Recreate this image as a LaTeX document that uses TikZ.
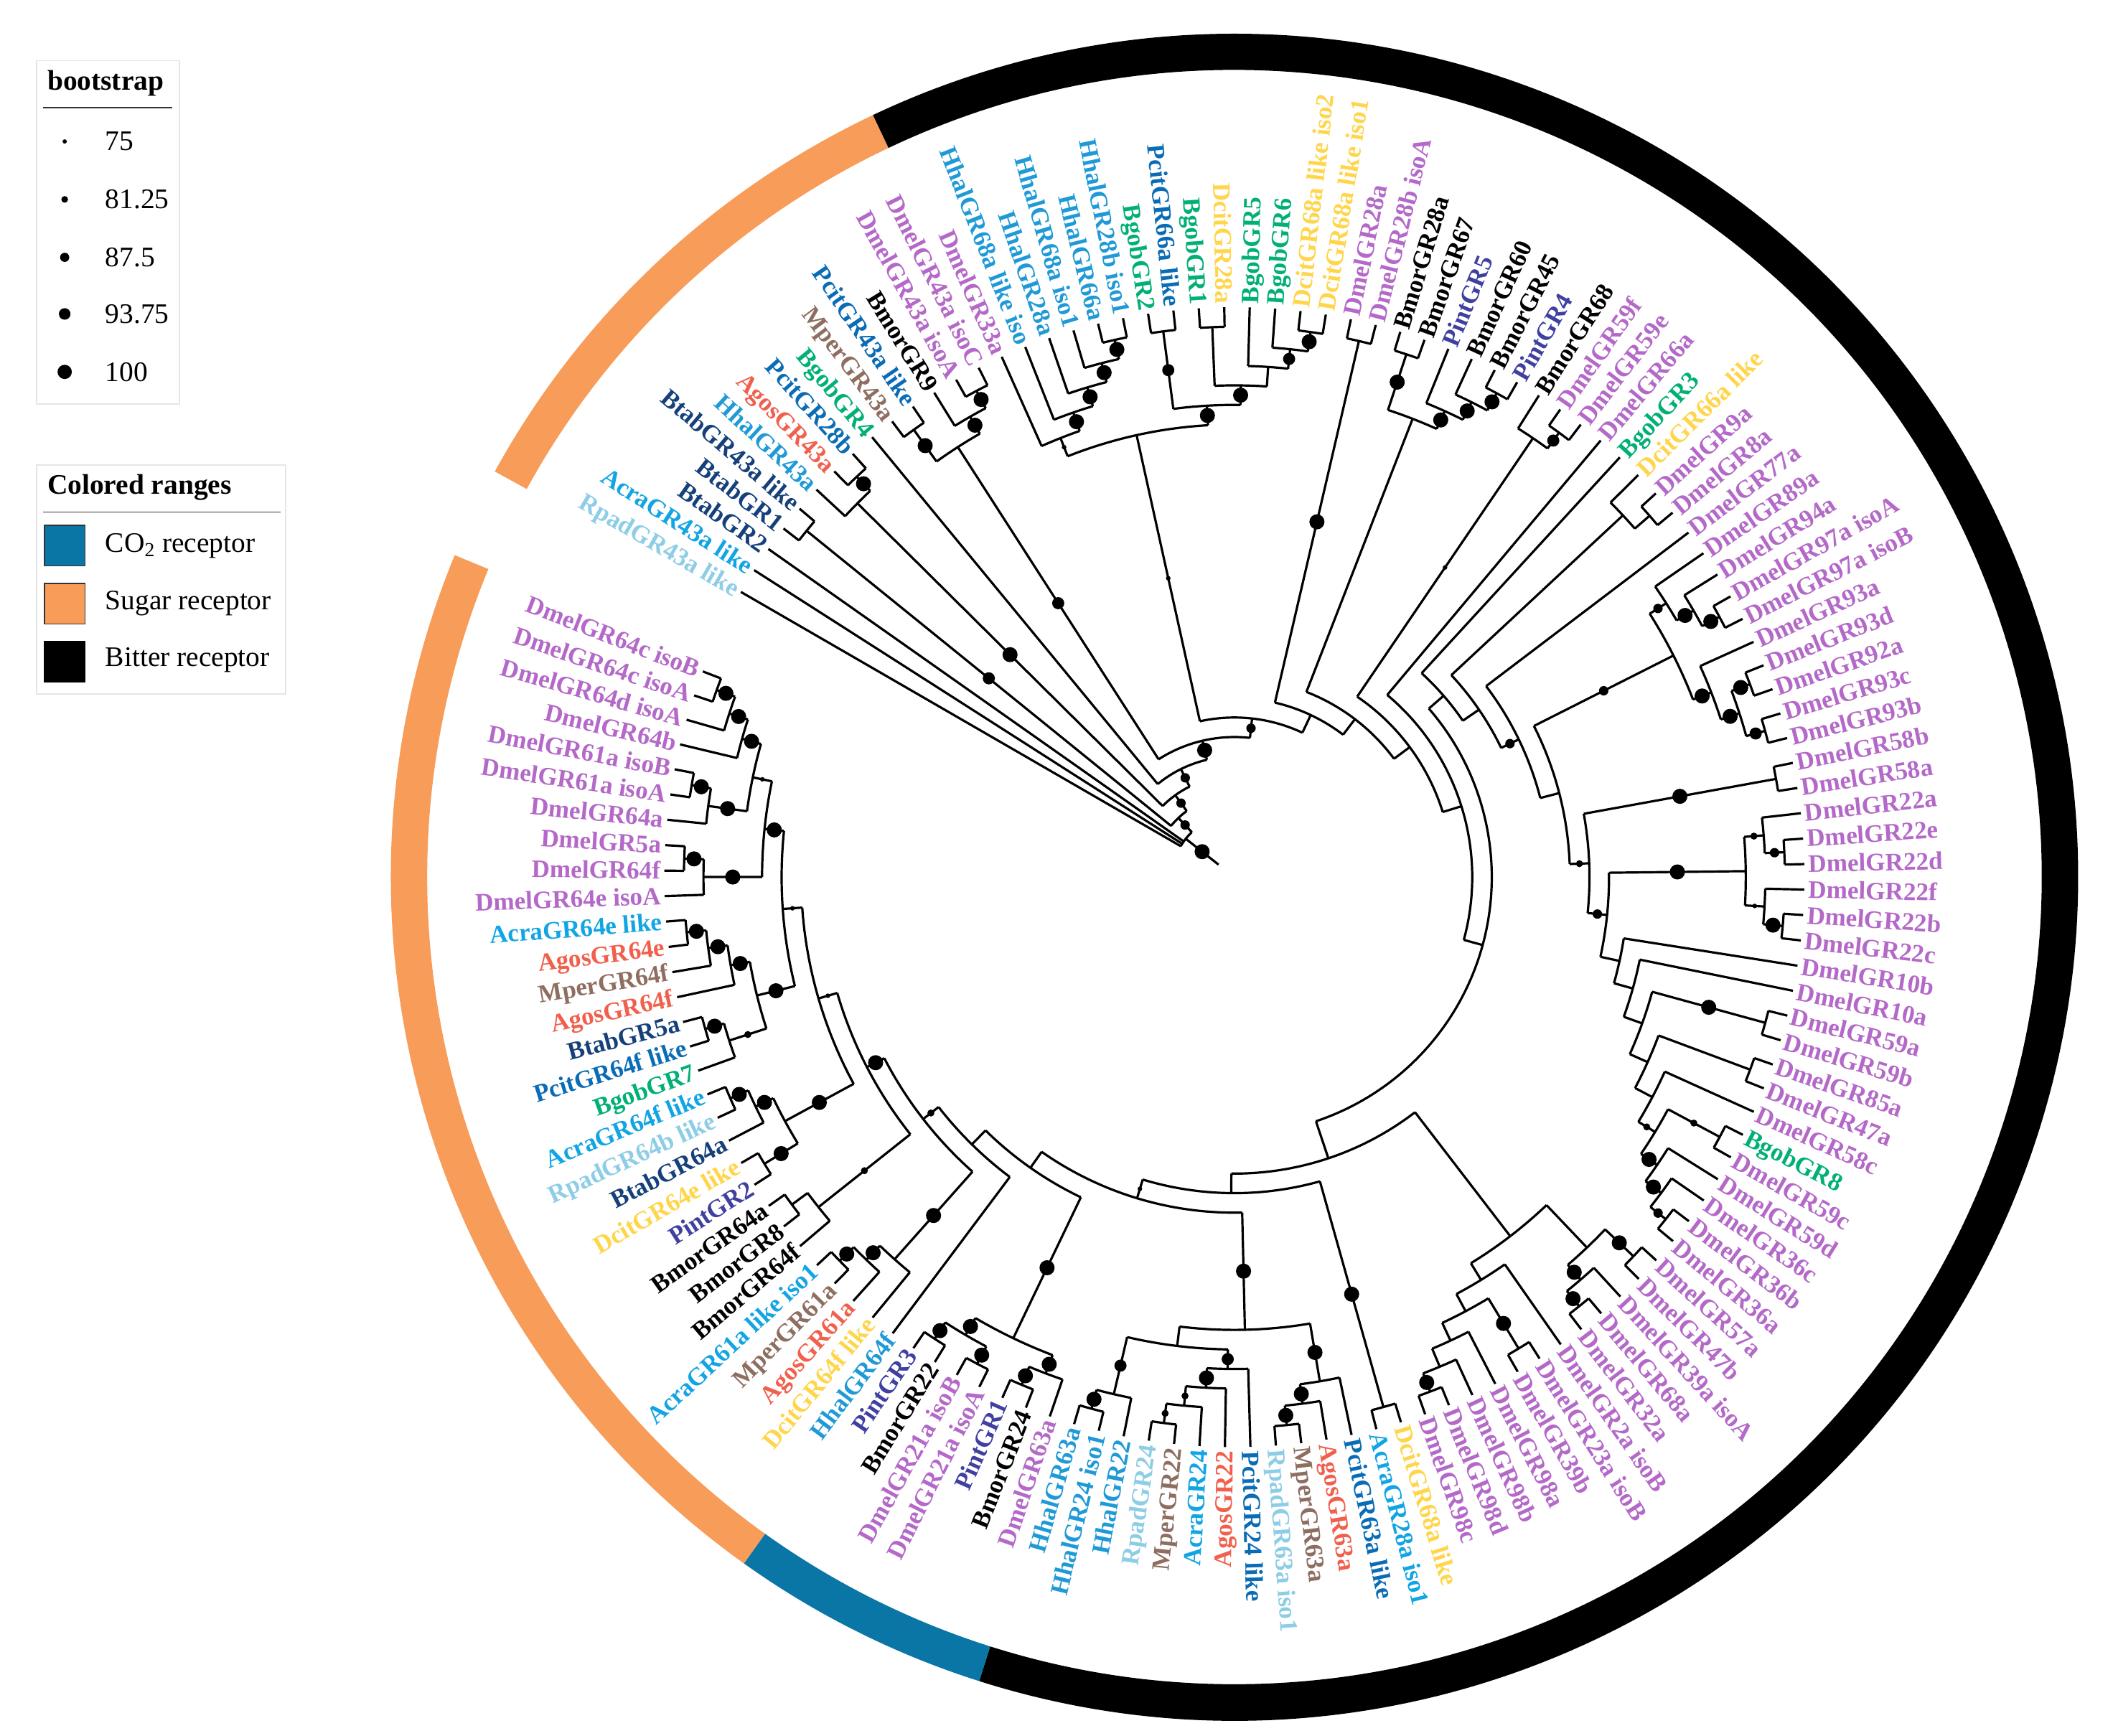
\documentclass[tikz,border=0pt]{standalone}
\usepackage{fontspec}
\setmainfont{Liberation Serif}
\definecolor{dm}{HTML}{B469C8}
\definecolor{bm}{HTML}{000000}
\definecolor{pi}{HTML}{3F40A0}
\definecolor{hh}{HTML}{1F9AD6}
\definecolor{bg}{HTML}{00B074}
\definecolor{dc}{HTML}{FFD54A}
\definecolor{pc}{HTML}{0A6CB5}
\definecolor{ag}{HTML}{F0604D}
\definecolor{mp}{HTML}{8E6E60}
\definecolor{bt}{HTML}{15407A}
\definecolor{ac}{HTML}{12A5E3}
\definecolor{rp}{HTML}{8DCDE6}
\definecolor{co}{HTML}{0A76A6}
\definecolor{su}{HTML}{F89C5A}
\newcount\leafidx
\def\Rleaf{423}
\def\Stp{14.5}
\def\Azero{149.97}
\def\Astep{2.563}
\def\Lgap{3}
\expandafter\def\csname dotr1\endcsname{1.7}
\expandafter\def\csname dotr2\endcsname{2.6}
\expandafter\def\csname dotr3\endcsname{3.5}
\expandafter\def\csname dotr4\endcsname{4.5}
\expandafter\def\csname dotr5\endcsname{5.6}
\tikzset{
  br/.style={line width=1.7pt},
  lbl/.style={font=\bfseries\fontsize{18.7}{18.7}\selectfont, inner sep=0pt, outer sep=0pt, text height=12.4pt, text depth=0pt},
  leg/.style={font=\fontsize{21}{21}\selectfont, inner sep=0pt, anchor=west},
  legt/.style={font=\bfseries\fontsize{21}{21}\selectfont, inner sep=0pt, anchor=west},
}
\let\KD\relax
\newcommand\Lf[2]{%
  \pgfmathsetmacro\tLa{\Azero-\Astep*\the\leafidx}%
  \global\advance\leafidx by 1\relax
  \pgfmathsetmacro\tNa{mod(\tLa+720,360)}%
  \pgfmathsetmacro\tRl{\Rleaf+\Lgap}%
  \def\tFl{0}%
  \ifdim\tNa pt>90pt \ifdim\tNa pt<270pt \def\tFl{1}\fi\fi
  \if1\tFl
    \pgfmathsetmacro\tRot{\tLa+180}%
    \node[lbl,text=#1,rotate=\tRot,anchor=east] at (\tLa:\tRl pt) {#2};
  \else
    \node[lbl,text=#1,rotate=\tLa,anchor=west] at (\tLa:\tRl pt) {#2};
  \fi
  \edef\kids{\unexpanded\expandafter{\kids}\noexpand\KD{\tLa}{0}{0}}%
  \ifx\kfirst\empty \edef\kfirst{\tLa}\fi
  \edef\klast{\tLa}%
}
\newcommand\Nd[2]{%
  \begingroup
    \def\kids{}\def\kfirst{}\def\klast{}\def\kmax{0}%
    #2%
    \pgfmathsetmacro\myh{\kmax+1}%
    \pgfmathsetmacro\myr{\Rleaf-\Stp*\myh}%
    \pgfmathsetmacro\mya{(\kfirst+\klast)/2}%
    \draw[br] (\kfirst:\myr pt) arc[start angle=\kfirst, end angle=\klast, radius=\myr pt];
    \def\KD##1##2##3{%
      \pgfmathsetmacro\crad{\Rleaf-\Stp*##2}%
      \draw[br] (##1:\myr pt) -- (##1:\crad pt);
      \ifnum##3>0
        \pgfmathsetmacro\mrad{(\myr+\crad)/2}%
        \fill (##1:\mrad pt) circle[radius=\csname dotr##3\endcsname pt];
      \fi}%
    \kids
    \xdef\gA{\mya}\xdef\gH{\myh}%
  \endgroup
  \edef\kids{\unexpanded\expandafter{\kids}\noexpand\KD{\gA}{\gH}{#1}}%
  \ifx\kfirst\empty \edef\kfirst{\gA}\fi
  \edef\klast{\gA}%
  \pgfmathsetmacro\kmax{max(\kmax,\gH)}%
}
\newcommand\ringseg[3]{%
  \fill[#3] (#1:599pt) arc[start angle=#1,end angle=#2,radius=599pt] -- (#2:626pt) arc[start angle=#2,end angle=#1,radius=626pt] -- cycle;}
\begin{document}
\begin{tikzpicture}[x=1pt,y=1pt]
\useasboundingbox (0,0) rectangle (1568,1288);
\fill[white] (0,0) rectangle (1568,1288);
\begin{scope}[shift={(916,637)}]
% ring
\pgfmathsetmacro\ra{\Azero+0.5*\Astep}
\pgfmathsetmacro\rb{\Azero-13.5*\Astep}
\pgfmathsetmacro\rc{\Azero-100.5*\Astep}
\pgfmathsetmacro\rd{\Azero-107.5*\Astep}
\pgfmathsetmacro\re{\Azero-137.5*\Astep}
\ringseg{\ra}{\rb}{su}
\ringseg{\rb}{\rc}{black}
\ringseg{\rc}{\rd}{co}
\ringseg{\rd}{\re}{su}
% tree
\def\kids{}\def\kfirst{}\def\klast{}\def\kmax{0}%
\Nd{5}{%
 \Lf{rp}{RpadGR43a like}%
 \Lf{ac}{AcraGR43a like}%
 \Lf{bt}{BtabGR2}%
 \Nd{3}{%
  \Nd{4}{\Lf{bt}{BtabGR1}\Lf{bt}{BtabGR43a like}}%
  \Nd{3}{%
   \Nd{5}{\Lf{hh}{HhalGR43a}\Nd{5}{\Lf{ag}{AgosGR43a}\Lf{pc}{PcitGR28b}}}%
   \Nd{3}{%
    \Lf{bg}{BgobGR4}%
    \Nd{5}{%
     \Nd{4}{\Nd{5}{\Lf{mp}{MperGR43a}\Lf{pc}{PcitGR43a like}}\Nd{5}{\Lf{bm}{BmorGR9}\Nd{5}{\Lf{dm}{DmelGR43a isoA}\Lf{dm}{DmelGR43a isoC}}}}%
     \Nd{3}{%
      \Nd{1}{%
       \Nd{1}{%
        \Lf{dm}{DmelGR33a}%
        \Nd{5}{\Lf{hh}{HhalGR68a like iso}\Nd{5}{\Lf{hh}{HhalGR28a}\Nd{5}{\Lf{hh}{HhalGR68a iso1}\Nd{5}{\Lf{hh}{HhalGR66a}\Lf{hh}{HhalGR28b iso1}}}}}%
       }%
       \Nd{5}{%
        \Nd{4}{\Lf{bg}{BgobGR2}\Lf{pc}{PcitGR66a like}}%
        \Nd{5}{\Nd{0}{\Lf{bg}{BgobGR1}\Lf{dc}{DcitGR28a}}\Nd{0}{\Lf{bg}{BgobGR5}\Nd{4}{\Lf{bg}{BgobGR6}\Nd{5}{\Lf{dc}{DcitGR68a like iso2}\Lf{dc}{DcitGR68a like iso1}}}}}%
       }%
      }%
      \Nd{0}{%
       \Nd{5}{\Lf{dm}{DmelGR28a}\Lf{dm}{DmelGR28b isoA}}%
       \Nd{0}{%
        \Nd{0}{\Nd{5}{\Lf{bm}{BmorGR28a}\Lf{bm}{BmorGR67}}\Nd{5}{\Lf{pi}{PintGR5}\Nd{5}{\Lf{bm}{BmorGR60}\Nd{5}{\Lf{bm}{BmorGR45}\Lf{pi}{PintGR4}}}}}%
        \Nd{0}{%
         \Nd{1}{\Lf{bm}{BmorGR68}\Nd{4}{\Lf{dm}{DmelGR59f}\Lf{dm}{DmelGR59e}}}%
         \Nd{0}{%
          \Lf{dm}{DmelGR66a}%
          \Nd{0}{%
           \Nd{0}{%
            \Lf{bg}{BgobGR3}%
            \Nd{0}{%
             \Nd{0}{\Lf{dc}{DcitGR66a like}\Nd{0}{\Lf{dm}{DmelGR9a}\Lf{dm}{DmelGR8a}}}%
             \Nd{3}{%
              \Lf{dm}{DmelGR77a}%
              \Nd{0}{%
               \Nd{3}{%
                \Nd{3}{\Lf{dm}{DmelGR89a}\Nd{5}{\Lf{dm}{DmelGR94a}\Nd{5}{\Lf{dm}{DmelGR97a isoA}\Lf{dm}{DmelGR97a isoB}}}}%
                \Nd{5}{\Lf{dm}{DmelGR93a}\Nd{5}{\Nd{5}{\Lf{dm}{DmelGR93d}\Lf{dm}{DmelGR92a}}\Nd{4}{\Lf{dm}{DmelGR93c}\Lf{dm}{DmelGR93b}}}}%
               }%
               \Nd{2}{%
                \Nd{5}{\Lf{dm}{DmelGR58b}\Lf{dm}{DmelGR58a}}%
                \Nd{3}{%
                 \Nd{5}{\Nd{2}{\Lf{dm}{DmelGR22a}\Nd{3}{\Lf{dm}{DmelGR22e}\Lf{dm}{DmelGR22d}}}\Nd{1}{\Lf{dm}{DmelGR22f}\Nd{5}{\Lf{dm}{DmelGR22b}\Lf{dm}{DmelGR22c}}}}%
                 \Nd{0}{%
                  \Lf{dm}{DmelGR10b}%
                  \Nd{0}{%
                   \Lf{dm}{DmelGR10a}%
                   \Nd{0}{%
                    \Nd{5}{\Lf{dm}{DmelGR59a}\Lf{dm}{DmelGR59b}}%
                    \Nd{0}{%
                     \Nd{0}{\Lf{dm}{DmelGR85a}\Lf{dm}{DmelGR47a}}%
                     \Nd{0}{%
                      \Lf{dm}{DmelGR58c}%
                      \Nd{2}{%
                       \Nd{2}{\Lf{bg}{BgobGR8}\Lf{dm}{DmelGR59c}}%
                       \Nd{5}{%
                        \Lf{dm}{DmelGR59d}%
                        \Nd{5}{%
                         \Lf{dm}{DmelGR36c}%
                         \Nd{3}{\Lf{dm}{DmelGR36b}\Lf{dm}{DmelGR36a}}%
                        }%
                       }%
                      }%
                     }%
                    }%
                   }%
                  }%
                 }%
                }%
               }%
              }%
             }%
            }%
           }%
           \Nd{0}{%
            \Nd{0}{%
             \Nd{0}{%
              \Nd{5}{\Lf{dm}{DmelGR57a}\Lf{dm}{DmelGR47b}}%
              \Nd{5}{\Lf{dm}{DmelGR39a isoA}\Nd{5}{\Lf{dm}{DmelGR68a}\Lf{dm}{DmelGR32a}}}%
             }%
             \Nd{0}{%
              \Lf{dm}{DmelGR2a isoB}%
              \Nd{0}{\Nd{5}{\Lf{dm}{DmelGR23a isoB}\Lf{dm}{DmelGR39b}}\Nd{0}{\Lf{dm}{DmelGR98a}\Nd{0}{\Lf{dm}{DmelGR98b}\Nd{5}{\Lf{dm}{DmelGR98d}\Lf{dm}{DmelGR98c}}}}}%
             }%
            }%
            \Nd{0}{%
             \Nd{5}{\Lf{dc}{DcitGR68a like}\Lf{ac}{AcraGR28a iso1}}%
             \Nd{1}{%
              \Nd{5}{%
               \Nd{5}{\Lf{pc}{PcitGR63a like}\Nd{5}{\Lf{ag}{AgosGR63a}\Nd{5}{\Lf{mp}{MperGR63a}\Lf{rp}{RpadGR63a iso1}}}}%
               \Nd{0}{%
                \Nd{4}{\Lf{pc}{PcitGR24 like}\Nd{5}{\Lf{ag}{AgosGR22}\Nd{2}{\Lf{ac}{AcraGR24}\Nd{2}{\Lf{mp}{MperGR22}\Lf{rp}{RpadGR24}}}}}%
                \Nd{4}{\Lf{hh}{HhalGR22}\Nd{5}{\Lf{hh}{HhalGR24 iso1}\Lf{hh}{HhalGR63a}}}%
               }%
              }%
              \Nd{0}{%
               \Nd{5}{%
                \Nd{5}{\Lf{dm}{DmelGR63a}\Nd{5}{\Lf{bm}{BmorGR24}\Lf{pi}{PintGR1}}}%
                \Nd{5}{\Nd{5}{\Lf{dm}{DmelGR21a isoA}\Lf{dm}{DmelGR21a isoB}}\Nd{5}{\Lf{bm}{BmorGR22}\Lf{pi}{PintGR3}}}%
               }%
               \Nd{0}{%
                \Lf{hh}{HhalGR64f}%
                \Nd{2}{%
                 \Nd{5}{\Lf{dc}{DcitGR64f like}\Nd{5}{\Lf{ag}{AgosGR61a}\Nd{5}{\Lf{mp}{MperGR61a}\Lf{ac}{AcraGR61a like iso1}}}}%
                 \Nd{5}{%
                  \Nd{2}{\Lf{bm}{BmorGR64f}\Nd{0}{\Lf{bm}{BmorGR8}\Lf{bm}{BmorGR64a}}}%
                  \Nd{1}{%
                   \Nd{5}{\Nd{5}{\Lf{pi}{PintGR2}\Lf{dc}{DcitGR64e like}}\Nd{5}{\Lf{bt}{BtabGR64a}\Nd{5}{\Lf{rp}{RpadGR64b like}\Lf{ac}{AcraGR64f like}}}}%
                   \Nd{1}{%
                    \Nd{5}{\Nd{2}{\Lf{bg}{BgobGR7}\Nd{5}{\Lf{pc}{PcitGR64f like}\Lf{bt}{BtabGR5a}}}\Nd{5}{\Lf{ag}{AgosGR64f}\Nd{5}{\Lf{mp}{MperGR64f}\Nd{5}{\Lf{ag}{AgosGR64e}\Lf{ac}{AcraGR64e like}}}}}%
                    \Nd{5}{%
                     \Nd{5}{\Lf{dm}{DmelGR64e isoA}\Nd{5}{\Lf{dm}{DmelGR64f}\Lf{dm}{DmelGR5a}}}%
                     \Nd{1}{\Nd{5}{\Lf{dm}{DmelGR64a}\Nd{5}{\Lf{dm}{DmelGR61a isoA}\Lf{dm}{DmelGR61a isoB}}}\Nd{5}{\Lf{dm}{DmelGR64b}\Nd{5}{\Lf{dm}{DmelGR64d isoA}\Nd{5}{\Lf{dm}{DmelGR64c isoA}\Lf{dm}{DmelGR64c isoB}}}}}%
                    }%
                   }%
                  }%
                 }%
                }%
               }%
              }%
             }%
            }%
           }%
          }%
         }%
        }%
       }%
      }%
     }%
    }%
   }%
  }%
 }%
}%
\pgfmathsetmacro\rootr{\Rleaf-\Stp*\gH}
\pgfmathsetmacro\rmid{(15+\rootr)/2}
\draw[br] (\gA:15pt) -- (\gA:\rootr pt);
\fill (\gA:\rmid pt) circle[radius=5.6pt];
\end{scope}
% legend 1
\draw[black!10, line width=1pt] (27,988) rectangle (133,1243);
\node[legt] at (35,1226) {bootstrap};
\draw[black!80, line width=1pt] (32,1208) -- (128,1208);
\fill (48,1183) circle[radius=1.6pt];
\fill (48,1140) circle[radius=2.5pt];
\fill (48,1097) circle[radius=3.4pt];
\fill (48,1055) circle[radius=4.3pt];
\fill (48,1012) circle[radius=5.3pt];
\node[leg] at (78,1183) {75};
\node[leg] at (78,1140) {81.25};
\node[leg] at (78,1097) {87.5};
\node[leg] at (78,1055) {93.75};
\node[leg] at (78,1012) {100};
% legend 2
\draw[black!10, line width=1pt] (27,773) rectangle (212,943);
\node[legt] at (35,926) {Colored ranges};
\draw[black!80, line width=1pt] (32,908) -- (208,908);
\filldraw[fill=co, draw=black!80, line width=0.8pt] (33,868) rectangle (63,898);
\filldraw[fill=su, draw=black!80, line width=0.8pt] (33,825) rectangle (63,855);
\filldraw[fill=black, draw=black, line width=0.8pt] (33,782) rectangle (63,812);
\node[leg] at (78,883) {CO\textsubscript{2} receptor};
\node[leg] at (78,840) {Sugar receptor};
\node[leg] at (78,798) {Bitter receptor};
\end{tikzpicture}
\end{document}
